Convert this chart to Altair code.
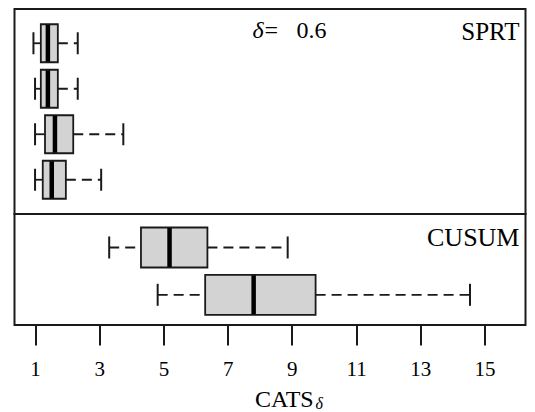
import altair as alt
import pandas as pd

# ---- data (box-plot statistics) ----
sprt_rows = ["S1", "S2", "S3", "S4"]
sprt_low = [0.95, 1.00, 1.00, 1.00]
sprt_q1 = [1.18, 1.18, 1.31, 1.24]
sprt_med = [1.40, 1.40, 1.62, 1.52]
sprt_q3 = [1.71, 1.71, 2.19, 1.96]
sprt_high = [2.33, 2.33, 3.75, 3.06]

cusum_rows = ["C1", "C2"]
cusum_low = [3.31, 4.82]
cusum_q1 = [4.30, 6.30]
cusum_med = [5.19, 7.81]
cusum_q3 = [6.37, 9.74]
cusum_high = [8.87, 14.55]

x_ticks = [1, 3, 5, 7, 9, 11, 13, 15]

FONT = "Liberation Serif, Times New Roman, Times, serif"
INK = "#1a1a1a"
W = 511
XDOM = [0.36, 0.36 + W / 32.1]


def panel(rows, lo, q1, med, q3, hi, box, pad_outer, align, show_axis):
    df = pd.DataFrame(dict(row=rows, lo=lo, q1=q1, med=med, q3=q3, hi=hi))
    xs = alt.Scale(domain=XDOM, nice=False, zero=False)
    ys = alt.Scale(domain=rows, paddingInner=0, paddingOuter=pad_outer, align=align)
    if show_axis:
        xaxis = alt.Axis(values=x_ticks, domain=False, grid=False, ticks=True,
                         tickSize=20, tickWidth=2, tickColor=INK,
                         labelFont=FONT, labelFontSize=21, labelColor="black",
                         labelPadding=13, title="CATS", titleFont=FONT,
                         titleFontSize=24, titleFontWeight="normal",
                         titleColor="black", titleAlign="left",
                         titleBaseline="alphabetic", titleX=240, titleY=81)
    else:
        xaxis = None
    y = alt.Y("row:N", scale=ys, sort=rows, axis=None)
    base = alt.Chart(df)
    w_lo = base.mark_rule(color=INK, strokeWidth=1.8, strokeDash=[10, 6], opacity=1).encode(
        x=alt.X("lo:Q", scale=xs, axis=xaxis), x2="q1:Q", y=y)
    w_hi = base.mark_rule(color=INK, strokeWidth=1.8, strokeDash=[10, 6], opacity=1).encode(
        x=alt.X("q3:Q", scale=xs), x2="hi:Q", y=y)
    bx = base.mark_bar(size=box, fill="#d3d3d3", stroke=INK, strokeWidth=1.8,
                       orient="horizontal", opacity=1).encode(
        x=alt.X("q1:Q", scale=xs), x2="q3:Q", y=y)
    md = base.mark_tick(orient="vertical", size=box - 1, thickness=4.5, color="black",
                        opacity=1).encode(
        x=alt.X("med:Q", scale=xs), y=y)
    s_lo = base.mark_tick(orient="vertical", size=22, thickness=2, color=INK, opacity=1).encode(
        x=alt.X("lo:Q", scale=xs), y=y)
    s_hi = base.mark_tick(orient="vertical", size=22, thickness=2, color=INK, opacity=1).encode(
        x=alt.X("hi:Q", scale=xs), y=y)
    return [w_lo, w_hi, bx, md, s_lo, s_hi]


def label(text, x, y, size, align="left", style="normal"):
    return alt.Chart(pd.DataFrame({"t": [text]})).mark_text(
        align=align, baseline="alphabetic", font=FONT, fontSize=size,
        fontStyle=style, color="black").encode(
        text="t:N", x=alt.value(x), y=alt.value(y))


top_layers = panel(sprt_rows, sprt_low, sprt_q1, sprt_med, sprt_q3, sprt_high,
                   38, 0.253, 0.5, False)
top = alt.layer(
    *top_layers,
    label("SPRT", 505, 31, 25, align="right"),
    label("δ", 238, 29, 24, style="italic"),
    label("=", 250, 29, 24),
    label("0.6", 282, 29, 24),
).properties(width=W, height=205)

bot_layers = panel(cusum_rows, cusum_low, cusum_q1, cusum_med, cusum_q3, cusum_high,
                   40, 0.173, 0.6, True)
bottom = alt.layer(
    *bot_layers,
    label("CUSUM", 505, 32, 26, align="right"),
    label("δ", 301, 195, 16, style="italic"),
).properties(width=W, height=111)

chart = alt.vconcat(top, bottom, spacing=0, bounds="flush").resolve_scale(
    x="independent", y="independent"
).properties(
    padding={"left": 5.5, "top": 0, "right": 0, "bottom": 0},
    background="white",
).configure_view(stroke=INK, strokeWidth=2)

chart.save("out.html", embed_options={"renderer": "svg", "actions": False})
